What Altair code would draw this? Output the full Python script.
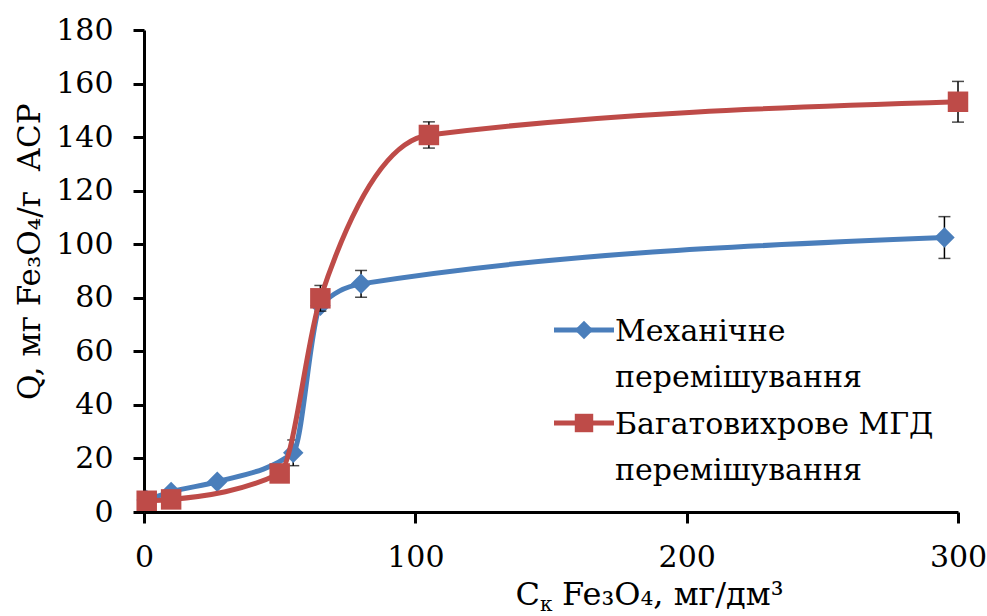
import altair as alt
import pandas as pd

# Series and styling
series = ["Механічне перемішування", "Багатовихрове МГД перемішування"]
colors = ["#4A7EBB", "#BE4B48"]
shapes = ["diamond", "square"]

# Механічне перемішування: concentration, capacity, error
mech_c = [1, 10, 27, 55, 65, 80, 295]
mech_q = [4.5, 7.5, 11.3, 22.1, 77.0, 85.2, 102.5]
mech_err = [0, 0, 0, 4.8, 0, 5.0, 7.8]

# Багатовихрове МГД перемішування
mhd_c = [1, 10, 50, 65, 105, 300]
mhd_q = [4.2, 4.7, 14.4, 79.8, 140.8, 153.2]
mhd_err = [0, 0, 0, 4.8, 4.9, 7.6]

x_ticks = [0, 100, 200, 300]
y_ticks = [0, 20, 40, 60, 80, 100, 120, 140, 160, 180]

FONT = "DejaVu Serif"
LEFT, TOP, W, H = 144, 30, 814, 482


def frame(name, cs, qs, errs):
    return pd.DataFrame({"series": name, "c": cs, "q": qs, "err": errs})


df = pd.concat([frame(series[0], mech_c, mech_q, mech_err),
                frame(series[1], mhd_c, mhd_q, mhd_err)], ignore_index=True)
df["lo"] = df["q"] - df["err"]
df["hi"] = df["q"] + df["err"]

x_enc = alt.X("c:Q", scale=alt.Scale(domain=[0, 300], nice=False),
              axis=alt.Axis(values=x_ticks, title=None, labelFlush=False,
                            labelPadding=19, format="d"))
y_scale = alt.Scale(domain=[0, 180], nice=False)
y_axis = alt.Axis(values=y_ticks, title=None, labelPadding=20, format="d")
color = alt.Color("series:N", scale=alt.Scale(domain=series, range=colors), legend=None)
shape = alt.Shape("series:N", scale=alt.Scale(domain=series, range=shapes), legend=None)

layers = []
for name in series:
    base = alt.Chart(df).transform_filter(alt.datum.series == name)
    err = base.transform_filter(alt.datum.err > 0).mark_errorbar(
        ticks=True, size=12, thickness=1.5, color="black"
    ).encode(x=x_enc, y=alt.Y("lo:Q", scale=y_scale, axis=y_axis), y2="hi:Q")
    line = base.mark_line(interpolate="monotone", strokeWidth=5).encode(
        x=x_enc, y=alt.Y("q:Q", scale=y_scale, axis=y_axis), color=color)
    pts = base.mark_point(filled=True, size=420, opacity=1).encode(
        x=x_enc, y=alt.Y("q:Q", scale=y_scale, axis=y_axis), color=color, shape=shape)
    layers += [err, line, pts]


def piece(txt, px, py, fs, align="left", angle=0):
    return alt.Chart(pd.DataFrame({"t": [txt]})).mark_text(
        align=align, baseline="alphabetic", font=FONT, fontSize=fs,
        color="black", angle=angle
    ).encode(x=alt.value(px - LEFT), y=alt.value(py - TOP), text="t:N")


# Horizontal axis title: Cк Fe3O4, мг/дм3 (subscript к set as a smaller, lowered piece)
TITLE_FS = 32
ax, ay = 540, 605
layers.append(piece("C", ax, ay, TITLE_FS, align="right"))
layers.append(piece("к", ax, ay + 6, 20))
layers.append(piece("Fe\u2083O\u2084, мг/дм\u00b3", ax + 22, ay, TITLE_FS))

# Vertical axis title, reads bottom to top
layers.append(piece("Q, мг Fe\u2083O\u2084/г\u00a0\u00a0АСР", 40, 400, 31, angle=270))

# Legend: line sample with marker, two-line label
legend_rows = [(330, 341), (423, 434)]
for name, col, shp, (sy, ty) in zip(series, colors, shapes, legend_rows):
    one = alt.Chart(pd.DataFrame({"s": [name]}))
    layers.append(one.mark_rule(color=col, strokeWidth=5).encode(
        x=alt.value(554 - LEFT), x2=alt.value(614 - LEFT), y=alt.value(sy - TOP)))
    layers.append(one.mark_point(shape=shp, filled=True, size=340, color=col, opacity=1).encode(
        x=alt.value(584 - LEFT), y=alt.value(sy - TOP)))
    label = name.replace(" перемішування", "\nперемішування")
    layers.append(alt.Chart(pd.DataFrame({"t": [label]})).mark_text(
        align="left", baseline="alphabetic", font=FONT, fontSize=30, color="black",
        lineBreak="\n", lineHeight=46
    ).encode(x=alt.value(615 - LEFT), y=alt.value(ty - TOP), text="t:N"))

chart = alt.layer(*layers).properties(
    width=W, height=H,
    padding={"left": LEFT, "top": TOP, "right": 987 - LEFT - W, "bottom": 616 - TOP - H},
    autosize=alt.AutoSizeParams(type="none"),
).configure_axis(
    domainColor="black", domainWidth=3, tickColor="black", tickWidth=3, tickSize=11,
    labelFont=FONT, labelFontSize=30, labelColor="black", grid=False, labelOverlap=False,
).configure_view(stroke=None)

chart.save("out.html", embed_options={"renderer": "svg", "actions": False})
